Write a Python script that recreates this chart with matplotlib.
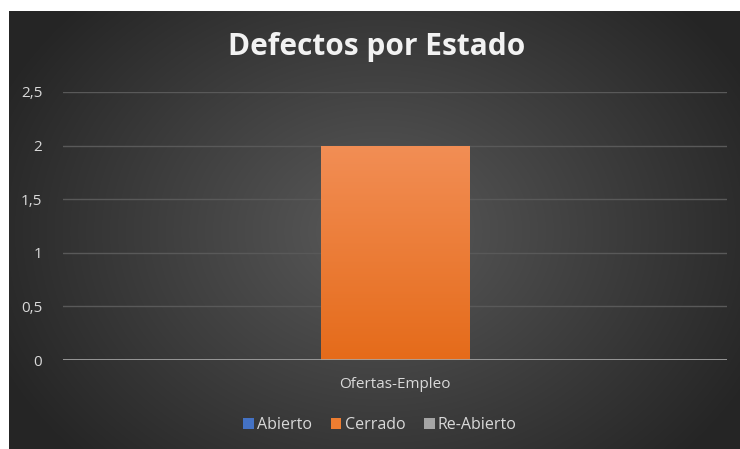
import matplotlib
matplotlib.use("Agg")
import matplotlib.pyplot as plt
import numpy as np

# data
CATEGORIES = ["Ofertas-Empleo"]
SERIES = ["Abierto", "Cerrado", "Re-Abierto"]
VALUES = [[0], [2], [0]]
COLORS = ["#4472C4", "#ED7D31", "#A5A5A5"]
Y_TICKS = [0, 0.5, 1, 1.5, 2, 2.5]
Y_LABELS = ["0", "0,5", "1", "1,5", "2", "2,5"]

plt.rcParams["font.family"] = ["Open Sans", "DejaVu Sans"]

W, H = 740, 449
fig = plt.figure(figsize=(W / 100, H / 100), dpi=100)
fig.patch.set_facecolor("white")

# chart area background: radial gradient
bg = fig.add_axes([9 / W, 0, (W - 9) / W, (H - 11) / H])
bg.set_axis_off()
yy, xx = np.mgrid[0:438, 0:731]
cx, cy = 370, 220
r = np.sqrt(((xx - cx) / 420.0) ** 2 + ((yy - cy) / 330.0) ** 2)
r = np.clip(r, 0, 1)
light, dark = 0x5a / 255, 0x25 / 255
g = light + (dark - light) * r
img = np.dstack([g, g, g])
bg.imshow(img, aspect="auto", extent=[0, 1, 0, 1], interpolation="bilinear")
bg.set_xlim(0, 1)
bg.set_ylim(0, 1)

# plot area
x0, x1 = 63, 727
ytop, ybot = 92, 360
ax = fig.add_axes([x0 / W, (H - ybot) / H, (x1 - x0) / W, (ybot - ytop) / H])
ax.set_facecolor("none")

bw = 0.224
x = np.arange(len(CATEGORIES))
top = np.array([0xF2, 0x8E, 0x55]) / 255
bot = np.array([0xE5, 0x6B, 0x1A]) / 255
for i, (name, vals, col) in enumerate(zip(SERIES, VALUES, COLORS)):
    bars = ax.bar(x + (i - 1) * bw, vals, width=bw, color=col, label=name,
                  zorder=3, linewidth=0)
    for b in bars:
        h = b.get_height()
        if h <= 0:
            continue
        bx, by = b.get_x(), b.get_y()
        t = np.linspace(0, 1, 256)[:, None]
        cimg = (top * (1 - t) + bot * t).reshape(256, 1, 3)
        # row 0 = top of bar
        im = ax.imshow(cimg, extent=[bx, bx + b.get_width(), by, by + h],
                       aspect="auto", zorder=4, origin="upper")
        im.set_clip_path(b)
ax.set_xlim(-0.5, 0.5)
ax.set_ylim(0, 2.5)

ax.set_yticks(Y_TICKS)
ax.set_yticklabels(Y_LABELS)
ax.grid(axis="y", color="#595959", lw=1, zorder=0)
ax.axhline(0, color="#A6A6A6", lw=1.2, zorder=5)
for s in ax.spines.values():
    s.set_visible(False)
ax.tick_params(axis="y", length=0, pad=15, labelsize=11, labelcolor="#D9D9D9")
ax.set_xticks(x)
ax.set_xticklabels(CATEGORIES)
ax.tick_params(axis="x", length=0, pad=12, labelsize=11, labelcolor="#D9D9D9")

fig.text(377 / W, 1 - 47 / H, "Defectos por Estado", ha="center", va="center",
         fontsize=21.5, fontweight="bold", color="#F2F2F2")

leg = fig.legend(loc="center", bbox_to_anchor=(380 / W, 1 - 425 / H), ncol=3,
                 frameon=False, fontsize=11.5, labelcolor="#D9D9D9",
                 handlelength=0.65, handleheight=0.65, handletextpad=0.2,
                 columnspacing=1.2)

fig.savefig("out.png", dpi=100, facecolor=fig.get_facecolor())
